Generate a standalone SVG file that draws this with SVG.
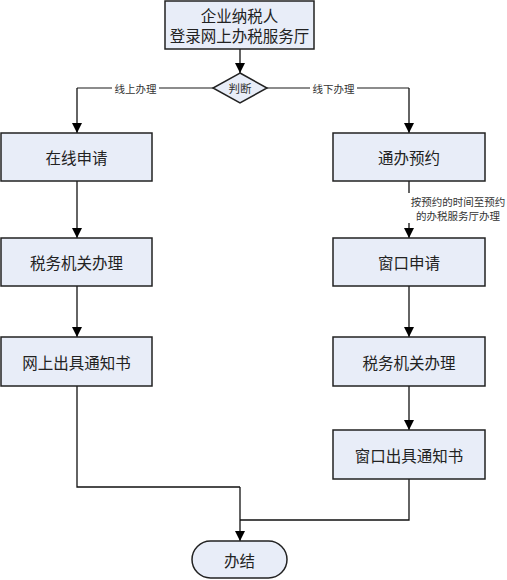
<svg xmlns="http://www.w3.org/2000/svg" width="507" height="580" viewBox="0 0 507 580">
<style>
.box{fill:#e8edf8;stroke:#222;stroke-width:1.5}
.t{font-family:"Noto Sans CJK SC",sans-serif;font-size:15.5px;fill:#222;text-anchor:middle;dominant-baseline:central}
.s{font-family:"Noto Sans CJK SC",sans-serif;font-size:10.5px;fill:#333;text-anchor:middle;dominant-baseline:central}
.c{fill:none;stroke:#111;stroke-width:1.3}
.g{fill:none;stroke:#666;stroke-width:1.5}
</style>
<defs>
<marker id="ah" viewBox="0 0 10 10" refX="10" refY="5" markerWidth="10" markerHeight="10" markerUnits="userSpaceOnUse" orient="auto">
<path d="M0,0 L10,5 L0,10 z" fill="#000"/>
</marker>
</defs>
<rect width="507" height="580" fill="#fff"/>
<g id="connectors">
<path class="c" d="M240,49 V73" marker-end="url(#ah)"/>
<path class="g" d="M213,88 H77" />
<path class="c" d="M77,88 V133" marker-end="url(#ah)"/>
<path class="g" d="M267,88 H409" />
<path class="c" d="M409,88 V133" marker-end="url(#ah)"/>
<path class="c" d="M77,181 V238" marker-end="url(#ah)"/>
<path class="c" d="M77,286 V337" marker-end="url(#ah)"/>
<path class="c" d="M409,181 V238" marker-end="url(#ah)"/>
<path class="c" d="M409,286 V337" marker-end="url(#ah)"/>
<path class="c" d="M409,386 V430" marker-end="url(#ah)"/>
<path class="c" d="M77,386 V487 H240" />
<path class="c" d="M409,479 V520 H240" />
<path class="c" d="M240,487 V541" marker-end="url(#ah)"/>
<rect x="112" y="81" width="47" height="14" fill="#fff"/>
<text class="s" x="135.5" y="88">线上办理</text>
<rect x="310" y="81" width="47" height="14" fill="#fff"/>
<text class="s" x="333.5" y="88">线下办理</text>
<rect x="408" y="193" width="99" height="30" fill="#fff"/>
<text class="s" x="458" y="201">按预约的时间至预约</text>
<text class="s" x="458" y="215">的办税服务厅办理</text>
</g>
<g id="start">
<rect class="box" x="165" y="1" width="149" height="48"/>
<text class="t" x="239.5" y="15">企业纳税人</text>
<text class="t" x="239.5" y="35">登录网上办税服务厅</text>
</g>
<g id="decision">
<polygon class="box" points="240,73 267,88 240,103 213,88"/>
<text class="s" x="240" y="88" style="font-size:11.5px">判断</text>
</g>
<g id="online-apply">
<rect class="box" x="1" y="133" width="151" height="48"/>
<text class="t" x="76.5" y="157">在线申请</text>
</g>
<g id="online-tax">
<rect class="box" x="1" y="238" width="151" height="48"/>
<text class="t" x="76.5" y="262">税务机关办理</text>
</g>
<g id="online-notice">
<rect class="box" x="1" y="337" width="151" height="49"/>
<text class="t" x="76.5" y="361.5">网上出具通知书</text>
</g>
<g id="reserve">
<rect class="box" x="333" y="133" width="152" height="48"/>
<text class="t" x="409" y="157">通办预约</text>
</g>
<g id="window-apply">
<rect class="box" x="333" y="238" width="152" height="48"/>
<text class="t" x="409" y="262">窗口申请</text>
</g>
<g id="window-tax">
<rect class="box" x="333" y="337" width="152" height="49"/>
<text class="t" x="409" y="361.5">税务机关办理</text>
</g>
<g id="window-notice">
<rect class="box" x="333" y="430" width="152" height="49"/>
<text class="t" x="409" y="454.5">窗口出具通知书</text>
</g>
<g id="end">
<rect class="box" x="192" y="541" width="95" height="37" rx="18.5" ry="18.5"/>
<text class="t" x="239.5" y="559.5">办结</text>
</g>
</svg>
